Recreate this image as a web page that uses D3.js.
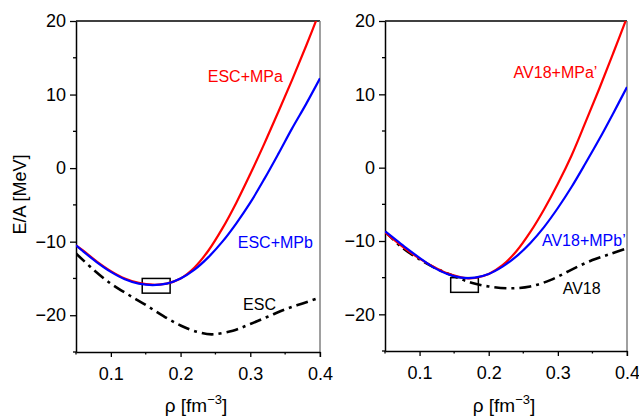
<!DOCTYPE html>
<html><head><meta charset="utf-8">
<script src="https://cdn.jsdelivr.net/npm/d3@7"></script>
<style>body{margin:0;background:#fff}svg{display:block;font-family:"Liberation Sans",Arial,sans-serif}</style>
</head><body><svg id="c" width="639" height="418"></svg>
<script>
// ---- data ----
const rhoTicksMajor = [0.1, 0.2, 0.3, 0.4];
const rhoTicksMinor = [0.05, 0.15, 0.25, 0.35];
const eTicksMajor = [-20, -10, 0, 10, 20];
const eTicksMinor = [-25, -15, -5, 5, 15];

const escMPaRho = [0.05,0.06,0.08,0.10,0.12,0.14,0.16,0.18,0.20,0.22,0.24,0.26,0.28,0.30,0.32,0.34,0.36,0.38,0.40];
const escMPaE   = [-10.5,-11.2,-12.7,-14.0,-15.0,-15.6,-15.85,-15.7,-15.0,-13.5,-11.2,-8.2,-4.7,-0.8,3.3,7.6,12.0,16.6,21.4];
const escMPbRho = [0.05,0.06,0.08,0.10,0.12,0.14,0.16,0.18,0.20,0.22,0.24,0.26,0.28,0.30,0.32,0.34,0.36,0.38,0.40];
const escMPbE   = [-10.5,-11.3,-12.8,-14.1,-15.1,-15.7,-15.9,-15.7,-15.0,-13.8,-12.1,-10.0,-7.5,-4.7,-1.5,1.9,5.4,8.7,12.2];
const escRho = [0.05,0.075,0.10,0.125,0.15,0.175,0.20,0.225,0.245,0.275,0.30,0.325,0.35,0.375,0.40];
const escE   = [-11.6,-13.8,-15.7,-17.2,-18.6,-20.1,-21.4,-22.3,-22.6,-22.1,-21.2,-20.2,-19.2,-18.4,-17.6];

const avMPaRho = [0.05,0.06,0.08,0.10,0.12,0.14,0.16,0.17,0.18,0.20,0.22,0.24,0.26,0.28,0.30,0.32,0.34,0.36,0.38,0.40];
const avMPaE   = [-8.8,-9.6,-11.1,-12.4,-13.5,-14.4,-14.95,-15.1,-15.05,-14.5,-13.3,-11.4,-8.8,-5.7,-2.2,1.7,6.2,10.8,15.6,20.5];
const avMPbRho = [0.05,0.06,0.08,0.10,0.12,0.14,0.16,0.17,0.18,0.20,0.22,0.24,0.26,0.28,0.30,0.32,0.34,0.36,0.38,0.40];
const avMPbE   = [-8.7,-9.4,-10.9,-12.3,-13.6,-14.5,-15.0,-15.05,-15.0,-14.5,-13.5,-12.1,-10.3,-8.1,-5.5,-2.6,0.6,3.9,7.4,11.0];
const avRho = [0.05,0.075,0.10,0.125,0.15,0.175,0.20,0.23,0.26,0.29,0.32,0.35,0.375,0.40];
const avE   = [-8.7,-10.9,-12.5,-13.8,-14.8,-15.7,-16.2,-16.45,-16.2,-15.3,-13.9,-12.6,-11.8,-11.0];

const satBoxRho = [0.145, 0.185];
const satBoxE = [-17, -15];

const panels = [
  {x0:76, x1:320, y0:21, y1:352, yTitle:true,
   series:[
     {rho:escMPaRho, e:escMPaE, color:"#ff0000", dash:null, label:"ESC+MPa", lr:0.239, le:12.5},
     {rho:escMPbRho, e:escMPbE, color:"#0000ff", dash:null, label:"ESC+MPb", lr:0.282, le:-10.1},
     {rho:escRho, e:escE, color:"#000000", dash:"12,5,3,5", label:"ESC", lr:0.2896, le:-18.5}]},
  {x0:385, x1:627, y0:21, y1:351, yTitle:false,
   series:[
     {rho:avMPaRho, e:avMPaE, color:"#ff0000", dash:null, label:"AV18+MPa\u2019", lr:0.236, le:13.0},
     {rho:avMPbRho, e:avMPbE, color:"#0000ff", dash:null, label:"AV18+MPb\u2019", lr:0.277, le:-9.9},
     {rho:avRho, e:avE, color:"#000000", dash:"12,5,3,5", label:"AV18", lr:0.307, le:-16.5}]}
];

const svg = d3.select("#c");
panels.forEach((p, i) => {
  const x = d3.scaleLinear().domain([0.05, 0.4]).range([p.x0, p.x1]);
  const y = d3.scaleLinear().domain([-25, 20]).range([p.y1, p.y0]);
  const g = svg.append("g");
  const cid = "clip" + i;
  svg.append("clipPath").attr("id", cid).append("rect")
    .attr("x", p.x0).attr("y", p.y0).attr("width", p.x1 - p.x0).attr("height", p.y1 - p.y0);

  // frame: top black, right gray
  g.append("line").attr("x1", p.x0).attr("x2", p.x1).attr("y1", p.y0).attr("y2", p.y0)
    .attr("stroke", "#000").attr("stroke-width", 1.3);
  g.append("line").attr("x1", p.x1).attr("x2", p.x1).attr("y1", p.y0).attr("y2", p.y1 + 5)
    .attr("stroke", "#808080").attr("stroke-width", 1.5);

  // axes
  const xa = g.append("g").attr("transform", `translate(0,${p.y1})`)
    .call(d3.axisBottom(x).tickValues(rhoTicksMajor).tickSize(5).tickSizeOuter(0).tickFormat(d3.format(".1f")));
  xa.append("g").selectAll("line").data(rhoTicksMinor).join("line")
    .attr("x1", d => x(d)).attr("x2", d => x(d)).attr("y1", 0).attr("y2", 2.5).attr("stroke", "#000").attr("stroke-width", 1.3);
  const ya = g.append("g").attr("transform", `translate(${p.x0},0)`)
    .call(d3.axisLeft(y).tickValues(eTicksMajor).tickSize(6).tickSizeOuter(0).tickFormat(d => d < 0 ? "\u2212" + Math.abs(d) : d));
  ya.append("g").selectAll("line").data(eTicksMinor).join("line")
    .attr("y1", d => y(d)).attr("y2", d => y(d)).attr("x1", 0).attr("x2", -3).attr("stroke", "#000").attr("stroke-width", 1.3);
  [xa, ya].forEach(a => {
    a.select(".domain").attr("stroke-width", 1.5);
    a.selectAll(".tick line").attr("stroke-width", 1.3);
    a.selectAll("text").attr("font-size", 18).attr("fill", "#000").attr("font-family", '"Liberation Sans",Arial,sans-serif');
  });
  xa.selectAll(".tick text").attr("dy", "0.71em").attr("y", 15);
  ya.selectAll(".tick text").attr("x", -10);

  // saturation box
  g.append("rect").attr("x", x(satBoxRho[0])).attr("y", y(satBoxE[1]))
    .attr("width", x(satBoxRho[1]) - x(satBoxRho[0])).attr("height", y(satBoxE[0]) - y(satBoxE[1]))
    .attr("fill", "none").attr("stroke", "#000").attr("stroke-width", 1.5);

  // curves
  const line = d3.line().x(d => x(d[0])).y(d => y(d[1])).curve(d3.curveCatmullRom.alpha(0.5));
  const cg = g.append("g").attr("clip-path", `url(#${cid})`);
  [p.series[2], p.series[0], p.series[1]].forEach(s => {
    cg.append("path").datum(s.rho.map((r, k) => [r, s.e[k]]))
      .attr("d", line).attr("fill", "none").attr("stroke", s.color)
      .attr("stroke-width", s.dash ? 2.6 : 2.2)
      .attr("stroke-dasharray", s.dash);
  });
  p.series.forEach(s => {
    g.append("text").attr("x", x(s.lr)).attr("y", y(s.le)).attr("dy", "0.35em")
      .attr("font-size", 16).attr("fill", s.color).text(s.label);
  });

  // x title
  const xt = g.append("text").attr("x", (p.x0 + p.x1) / 2 - 2).attr("y", 412)
    .attr("text-anchor", "middle").attr("font-size", 19);
  xt.append("tspan").text("\u03c1 [fm");
  xt.append("tspan").attr("font-size", 13).attr("dy", -8).text("\u22123");
  xt.append("tspan").attr("dy", 8).text("]");

  if (p.yTitle) {
    g.append("text").attr("transform", `translate(26,${(p.y0 + p.y1) / 2 + 8}) rotate(-90)`)
      .attr("text-anchor", "middle").attr("font-size", 18).text("E/A [MeV]");
  }
});
</script></body></html>
